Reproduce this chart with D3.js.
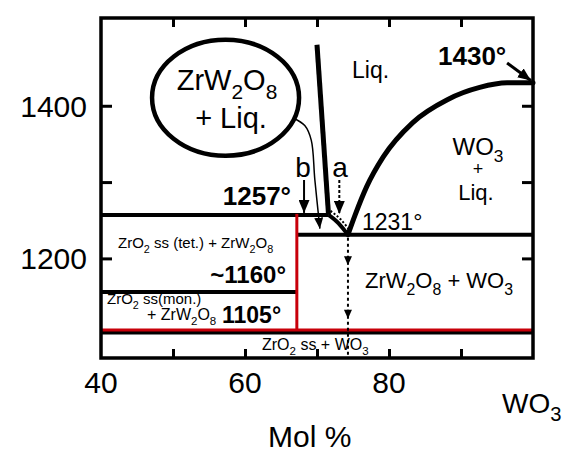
<!DOCTYPE html>
<html>
<head>
<meta charset="utf-8">
<script src="https://cdn.jsdelivr.net/npm/d3@7"></script>
<style>
  body { margin: 0; background: #fff; }
  svg { display: block; font-family: "Liberation Sans", Arial, sans-serif; }
</style>
</head>
<body>
<div class="chart"></div>
<script>
// ZrO2 - WO3 phase diagram (mol % WO3, deg C)
const xTicks = [50, 60, 70, 80, 90]
const xTickLabels = [40, 60, 80]
const yTicks = [1200, 1300, 1400]
const yTickLabels = [1200, 1400]

// isotherms: [temperature, from %, to %]
const isotherms = [
    [1257, 40, 71.6],
    [1231, 67.2, 100],
    [1156, 40, 67.2],
    [1105, 40, 100]
]
const compoundX = 67.2          // ZrW2O8 line
const compoundRange = [1105, 1257]
const eutecticX = 74.3

const liquidusSteep = [[70.0, 1480], [71.6, 1257]]
const peritecticCurve = [[71.6, 1257], [73.0, 1246], [74.3, 1231]]
const liquidusWO3 = [
    [74.3, 1231], [75.3, 1257], [76.9, 1294], [79.2, 1333],
    [83.3, 1378], [88.1, 1408], [92.6, 1424], [96.4, 1430], [100, 1430]
]

const width = 565, height = 453

const svg = d3.select('.chart')
    .append('svg')
    .attr('width', width)
    .attr('height', height)

const x = d3.scaleLinear().domain([40, 100]).range([101, 533])
const y = d3.scaleLinear().domain([1069.5, 1515]).range([358, 18])
const red = '#c8000a'

const defs = svg.append('defs')
const marker = (id, w, h) => defs.append('marker')
    .attr('id', id)
    .attr('viewBox', `0 0 ${h} ${w}`)
    .attr('refX', h).attr('refY', w / 2)
    .attr('markerWidth', h).attr('markerHeight', w)
    .attr('markerUnits', 'userSpaceOnUse')
    .attr('orient', 'auto')
    .append('path')
    .attr('d', `M0,0L${h},${w / 2}L0,${w}Z`)
    .attr('fill', '#000')
marker('head', 11, 13)
marker('headSmall', 9, 11)

// chemical formula text, "_" marks a subscript digit
const chem = (sel, str, size) => {
    let sub = false
    str.split(/(_\d)/).filter(s => s).forEach(p => {
        if (p[0] === '_') {
            sel.append('tspan').attr('font-size', size * 0.72).attr('dy', size * 0.3).text(p.slice(1))
            sub = true
        } else {
            sel.append('tspan').attr('dy', sub ? -size * 0.3 : 0).text(p)
            sub = false
        }
    })
}
const label = (str, px, py, size, opts = {}) => {
    const t = svg.append('text')
        .attr('x', px).attr('y', py)
        .attr('font-size', size)
        .attr('text-anchor', opts.anchor || 'start')
        .attr('font-weight', opts.bold ? 'bold' : 'normal')
    chem(t, str, size)
    return t
}

//phase boundaries
const line = d3.line().x(d => x(d[0])).y(d => y(d[1]))

svg.selectAll('line.iso')
    .data(isotherms)
    .enter()
    .append('line')
        .attr('class', 'iso')
        .attr('x1', d => x(d[1]))
        .attr('x2', d => x(d[2]))
        .attr('y1', d => y(d[0]) + (d[0] === 1105 ? 1.5 : 0))
        .attr('y2', d => y(d[0]) + (d[0] === 1105 ? 1.5 : 0))
        .attr('stroke', '#000')
        .attr('stroke-width', 4)

svg.append('line')
    .attr('x1', x(40)).attr('x2', x(100))
    .attr('y1', y(1105) - 1).attr('y2', y(1105) - 1)
    .attr('stroke', red).attr('stroke-width', 3)
svg.append('line')
    .attr('x1', x(compoundX)).attr('x2', x(compoundX))
    .attr('y1', y(compoundRange[0]) - 1).attr('y2', y(compoundRange[1]) - 1)
    .attr('stroke', red).attr('stroke-width', 3)

svg.append('path').attr('d', line(liquidusSteep))
    .attr('fill', 'none').attr('stroke', '#000').attr('stroke-width', 5)
svg.append('path').attr('d', line.curve(d3.curveMonotoneX)(peritecticCurve))
    .attr('fill', 'none').attr('stroke', '#000').attr('stroke-width', 4)
svg.append('path').attr('d', line.curve(d3.curveMonotoneX)(liquidusWO3))
    .attr('fill', 'none').attr('stroke', '#000').attr('stroke-width', 5)
    .attr('stroke-linecap', 'round')

// hatching just above the peritectic curve
svg.append('path')
    .attr('d', d3.line().x(d => x(d[0]) + 2).y(d => y(d[1]) - 4).curve(d3.curveMonotoneX)(peritecticCurve))
    .attr('fill', 'none').attr('stroke', '#000').attr('stroke-width', 2)
    .attr('stroke-dasharray', '2,2')

//frame and ticks
svg.append('rect')
    .attr('x', x(40)).attr('y', y(1515))
    .attr('width', x(100) - x(40)).attr('height', y(1069.5) - y(1515))
    .attr('fill', 'none').attr('stroke', '#000').attr('stroke-width', 3.5)

const tickAxis = (axis, tr) => svg.append('g')
    .attr('transform', tr)
    .call(axis.tickFormat('').tickSizeOuter(0))
    .call(g => g.select('.domain').remove())
    .call(g => g.selectAll('line').attr('stroke-width', 3))
tickAxis(d3.axisBottom(x).tickValues(xTicks).tickSizeInner(-9), `translate(0,${y(1069.5)})`)
tickAxis(d3.axisTop(x).tickValues(xTicks).tickSizeInner(-9), `translate(0,${y(1515)})`)
tickAxis(d3.axisLeft(y).tickValues(yTicks).tickSizeInner(-11), `translate(${x(40)},0)`)
tickAxis(d3.axisRight(y).tickValues(yTicks).tickSizeInner(-11), `translate(${x(100)},0)`)

svg.selectAll('text.xt')
    .data(xTickLabels)
    .enter()
    .append('text')
        .attr('class', 'xt')
        .attr('x', d => x(d))
        .attr('y', 393)
        .attr('font-size', 30)
        .attr('text-anchor', 'middle')
        .text(d => d)

svg.selectAll('text.yt')
    .data(yTickLabels)
    .enter()
    .append('text')
        .attr('class', 'yt')
        .attr('x', 87)
        .attr('y', d => y(d))
        .attr('dy', '0.36em')
        .attr('font-size', 30)
        .attr('text-anchor', 'end')
        .text(d => d)

label('WO_3', 502, 413, 28)
label('Mol %', 268, 447, 30)

//ellipse callout
svg.append('ellipse')
    .attr('cx', x(57.3)).attr('cy', y(1410.5))
    .attr('rx', 73.5).attr('ry', 58)
    .attr('fill', 'none').attr('stroke', '#000').attr('stroke-width', 4.5)
label('ZrW_2O_8', 227, 90, 29, { anchor: 'middle' })
label('+ Liq.', 231, 128, 29, { anchor: 'middle' })

svg.append('path')
    .attr('d', line.curve(d3.curveCatmullRom)([[66.7, 1384], [68.3, 1374], [69.2, 1355], [69.7, 1303], [70.4, 1239]]))
    .attr('fill', 'none').attr('stroke', '#000').attr('stroke-width', 1.5)
    .attr('marker-end', 'url(#headSmall)')

// a / b arrows
svg.append('line')
    .attr('x1', x(68.2)).attr('x2', x(68.2))
    .attr('y1', 180).attr('y2', y(1257) - 2)
    .attr('stroke', '#000').attr('stroke-width', 2)
    .attr('marker-end', 'url(#head)')
svg.append('line')
    .attr('x1', x(73.1)).attr('x2', x(73.1))
    .attr('y1', 180).attr('y2', y(1257) - 1)
    .attr('stroke', '#000').attr('stroke-width', 2)
    .attr('stroke-dasharray', '3,2')
    .attr('marker-end', 'url(#head)')
label('b', 303, 177, 28, { anchor: 'middle' })
label('a', 340, 177, 28, { anchor: 'middle' })

// dotted line down from the eutectic
svg.append('line')
    .attr('x1', x(eutecticX)).attr('x2', x(eutecticX))
    .attr('y1', y(1231) + 3).attr('y2', y(1069.5))
    .attr('stroke', '#000').attr('stroke-width', 2)
    .attr('stroke-dasharray', '3,3')
;[1191, 1121].forEach(t => svg.append('path')
    .attr('d', `M${x(eutecticX) - 4},${y(t) - 9}L${x(eutecticX) + 4},${y(t) - 9}L${x(eutecticX)},${y(t)}Z`)
    .attr('fill', '#000'))

// 1430 arrow
svg.append('line')
    .attr('x1', x(96.4)).attr('y1', y(1456))
    .attr('x2', x(99.7)).attr('y2', y(1433))
    .attr('stroke', '#000').attr('stroke-width', 3)
    .attr('marker-end', 'url(#head)')

//phase labels
label('Liq.', 352, 78, 23)
label('1430°', 438, 65, 26, { bold: true })
label('WO_3', 478, 155, 24, { anchor: 'middle' })
label('+', 478, 175, 18, { anchor: 'middle' })
label('Liq.', 476, 200, 22, { anchor: 'middle' })
label('1257°', 291, 205, 26, { anchor: 'end', bold: true })
label('1231°', 362, 230, 23)
label('ZrW_2O_8 + WO_3', 365, 288, 22)
label('ZrO_2 ss (tet.) + ZrW_2O_8', 118, 248, 15)
label('~1160°', 286, 283, 24, { anchor: 'end', bold: true })
label('ZrO_2 ss(mon.)', 107, 304, 15)
label('+ ZrW_2O_8', 147, 320, 16)
label('1105°', 222, 323, 23, { bold: true })
label('ZrO_2 ss + WO_3', 262, 350, 16)
</script>
</body>
</html>
